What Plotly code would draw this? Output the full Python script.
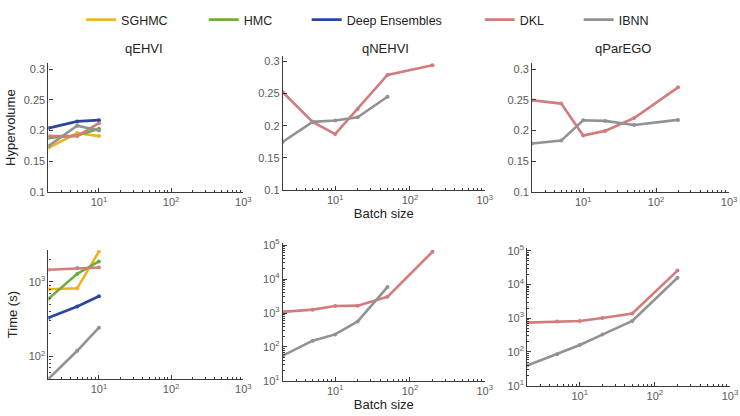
import numpy as np
import plotly.graph_objects as go

W, H = 740, 416

# ---------------- data ----------------
batch = [2, 5, 10, 20, 50, 200]
methods = ["SGHMC", "HMC", "Deep Ensembles", "DKL", "IBNN"]
colors = {"SGHMC": "#EDB21E", "HMC": "#6FAC3E", "Deep Ensembles": "#2B469F",
          "DKL": "#D27D7D", "IBNN": "#929292"}

# Hypervolume
hv_qehvi_sghmc = [0.172, 0.196, 0.191]
hv_qehvi_hmc = [0.188, 0.192, 0.203]
hv_qehvi_de = [0.204, 0.215, 0.217]
hv_qehvi_dkl = [0.191, 0.191, 0.212]
hv_qehvi_ibnn = [0.175, 0.208, 0.200]

hv_qnehvi_dkl = [0.252, 0.206, 0.187, 0.226, 0.279, 0.294]
hv_qnehvi_ibnn = [0.175, 0.206, 0.208, 0.213, 0.245]

hv_qparego_dkl = [0.2495, 0.244, 0.192, 0.1995, 0.2205, 0.2705]
hv_qparego_ibnn = [0.179, 0.1837, 0.2168, 0.2158, 0.209, 0.2174]

# Time (s)
t_qehvi_sghmc = [796, 820, 2560]
t_qehvi_hmc = [593, 1280, 1884]
t_qehvi_de = [330, 468, 641]
t_qehvi_dkl = [1456, 1530, 1560]
t_qehvi_ibnn = [50, 119, 243]

t_qnehvi_dkl = [1081, 1260, 1610, 1650, 3000, 64100]
t_qnehvi_ibnn = [55, 153, 234, 567, 5830]

t_qparego_dkl = [741, 792, 829, 1012, 1380, 25800]
t_qparego_ibnn = [39.6, 86, 160, 326, 828, 15850]

hv_ticks = [0.1, 0.15, 0.2, 0.25, 0.3]
hv_ticktext = ["0.1", "0.15", "0.2", "0.25", "0.3"]
x_ticks = [10, 100, 1000]
x_ticktext = ["10<sup>1</sup>", "10<sup>2</sup>", "10<sup>3</sup>"]
titles = ["qEHVI", "qNEHVI", "qParEGO"]

panels = [
    (0, 0, {"SGHMC": hv_qehvi_sghmc, "HMC": hv_qehvi_hmc, "Deep Ensembles": hv_qehvi_de,
            "DKL": hv_qehvi_dkl, "IBNN": hv_qehvi_ibnn}),
    (0, 1, {"DKL": hv_qnehvi_dkl, "IBNN": hv_qnehvi_ibnn}),
    (0, 2, {"DKL": hv_qparego_dkl, "IBNN": hv_qparego_ibnn}),
    (1, 0, {"SGHMC": t_qehvi_sghmc, "HMC": t_qehvi_hmc, "Deep Ensembles": t_qehvi_de,
            "DKL": t_qehvi_dkl, "IBNN": t_qehvi_ibnn}),
    (1, 1, {"DKL": t_qnehvi_dkl, "IBNN": t_qnehvi_ibnn}),
    (1, 2, {"DKL": t_qparego_dkl, "IBNN": t_qparego_ibnn}),
]

# ---------------- layout geometry (pixels) ----------------
xpix = {(0, 0): (49, 246), (0, 1): (286, 490), (0, 2): (538, 737),
        (1, 0): (49, 246), (1, 1): (286, 490), (1, 2): (533, 738)}
ypix = {(0, 0): (192, 60, [0.1, 0.3095]),
        (0, 1): (190, 52, [0.1, 0.309]),
        (0, 2): (192, 60, [0.1, 0.3095]),
        (1, 0): (384, 252, [np.log10(50), np.log10(2650)]),
        (1, 1): (386, 244, [1, 5.08]),
        (1, 2): (391, 250, [1, 5.07])}

fig = go.Figure()
FONT = "Liberation Sans, Arial, Helvetica, sans-serif"
AXC = "#3a3a3a"
TXC = "#5a5a5a"

minor_x = [v * 10 ** e for e in range(0, 3) for v in range(2, 10)]

for idx, (r, c, data) in enumerate(panels):
    n = idx + 1
    xa = "x" if n == 1 else f"x{n}"
    ya = "y" if n == 1 else f"y{n}"
    for m in methods:
        if m not in data:
            continue
        vals = data[m]
        fig.add_trace(go.Scatter(
            x=batch[:len(vals)], y=vals, mode="lines+markers", name=m,
            line=dict(color=colors[m], width=2.6),
            marker=dict(color=colors[m], size=4),
            xaxis=xa, yaxis=ya, legendgroup=m, showlegend=False))

    x0, x1 = xpix[(r, c)]
    yb, yt, yr = ypix[(r, c)]
    xkey = "xaxis" if n == 1 else f"xaxis{n}"
    ykey = "yaxis" if n == 1 else f"yaxis{n}"
    xaxis = dict(type="log", range=[np.log10(2), 3], domain=[x0 / W, x1 / W],
                 anchor=ya, showgrid=False, zeroline=False, showline=True,
                 linecolor=AXC, linewidth=1.2, ticks="inside", ticklen=4,
                 tickcolor=AXC, tickvals=x_ticks, ticktext=x_ticktext,
                 tickfont=dict(family=FONT, size=11, color=TXC),
                 minor=dict(ticks="inside", ticklen=2, tickcolor=AXC, tickvals=minor_x,
                            showgrid=False))
    if c == 1:
        xaxis["title"] = dict(text="Batch size", font=dict(family=FONT, size=13, color="#222"),
                              standoff=0)
    yaxis = dict(domain=[1 - yb / H, 1 - yt / H], anchor=xa, range=yr,
                 showgrid=False, zeroline=False, showline=True, linecolor=AXC,
                 linewidth=1.2, ticks="inside", ticklen=4, tickcolor=AXC,
                 tickfont=dict(family=FONT, size=11, color=TXC))
    if r == 0:
        yaxis.update(tickvals=hv_ticks, ticktext=hv_ticktext)
        if c == 0:
            yaxis["title"] = dict(text="Hypervolume", font=dict(family=FONT, size=13, color="#222"),
                                  standoff=5)
    else:
        yaxis["type"] = "log"
        if c == 0:
            yt_v = [100, 1000]
            yt_t = ["10<sup>2</sup>", "10<sup>3</sup>"]
            yminor = [v * 10 ** e for e in range(1, 4) for v in range(2, 10)]
            yaxis["title"] = dict(text="Time (s)", font=dict(family=FONT, size=13, color="#222"),
                                  standoff=8)
        else:
            yt_v = [10, 100, 1000, 10000, 100000]
            yt_t = ["10<sup>1</sup>", "10<sup>2</sup>", "10<sup>3</sup>", "10<sup>4</sup>", "10<sup>5</sup>"]
            yminor = [v * 10 ** e for e in range(1, 5) for v in range(2, 10)]
        yaxis.update(tickvals=yt_v, ticktext=yt_t,
                     minor=dict(ticks="inside", ticklen=2, tickcolor=AXC,
                                tickvals=yminor, showgrid=False))
    fig.layout[xkey] = xaxis
    fig.layout[ykey] = yaxis

# legend: one legend per method, placed like the reference (text start - 40 px)
legend_text_px = [122, 246, 350, 525, 625]
legend_cfg = {}
for i, m in enumerate(methods):
    lname = "legend" if i == 0 else f"legend{i + 1}"
    fig.add_trace(go.Scatter(x=[None], y=[None], mode="lines", name=m,
                             line=dict(color=colors[m], width=2.6),
                             legend=lname, showlegend=True, legendgroup=m))
    legend_cfg[lname] = dict(orientation="h", x=(legend_text_px[i] - 40) / W, xanchor="left",
                             y=1.0, yanchor="top",
                             font=dict(family=FONT, size=12.5, color="#222"),
                             itemwidth=30, bgcolor="rgba(0,0,0,0)")

# panel titles
title_x = [146, 390, 630]
for c, t in enumerate(titles):
    fig.add_annotation(x=title_x[c] / W, y=1 - 45 / H, xref="paper", yref="paper",
                       text=t, showarrow=False, xanchor="center", yanchor="middle",
                       font=dict(family=FONT, size=13, color="#222"))

fig.update_layout(
    width=W, height=H, margin=dict(l=0, r=0, t=0, b=0),
    paper_bgcolor="white", plot_bgcolor="white",
    showlegend=True, **legend_cfg,
)

fig.write_html("out.html")
